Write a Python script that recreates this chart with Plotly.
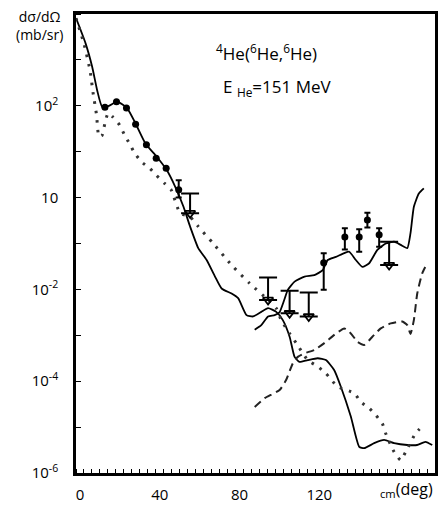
import plotly.graph_objects as go

# ---- data (angles in deg, cross sections as log10 of mb/sr) ----
solid_x = [0, 4.8, 8.1, 10.6, 13.1, 16.5, 20.6, 25.6, 29.8, 34.8, 40.5, 45.5, 49.7, 53.9, 57.2,
           61.3, 65.5, 69.7, 73, 78, 81.3, 85.5, 88.8, 92.9, 96.3, 100.4, 103.7, 107.1, 109.6,
           112, 116.2, 121.2, 125.3, 129.5, 132.8, 137.8, 142, 144.5, 149.5, 154.5, 159.5,
           166.1, 171, 175.2, 178.6]
solid_log = [3.91, 3.36, 2.85, 2.34, 1.98, 2.0, 2.09, 1.95, 1.62, 1.18, 0.89, 0.60, 0.24, -0.20, -0.63,
             -1.10, -1.36, -1.72, -1.98, -2.09, -2.19, -2.56, -2.59, -2.49, -2.41, -2.49, -2.67, -3.03, -3.47,
             -3.58, -3.54, -3.50, -3.54, -3.76, -4.12, -4.77, -5.43, -5.46, -5.35, -5.28, -5.35,
             -5.39, -5.39, -5.32, -5.39]

solid2_x = [89.6, 92.9, 96.3, 99.6, 102.0, 104.4, 106.2, 109.6, 114.6, 119.5, 123.7, 126.2, 130.3,
            134.5, 137, 140.3, 143.6, 147, 151.1, 155.3, 159.5, 162.8, 166.1, 167.7, 169.4, 171.9, 174.4]
solid2_log = [-2.88, -2.78, -2.59, -2.56, -2.50, -2.23, -2.01, -1.83, -1.72, -1.69, -1.58, -1.36, -1.29,
              -1.21, -1.18, -1.36, -1.51, -1.43, -1.14, -1.0, -0.96, -1.03, -1.10, -0.78, -0.20, 0.09, 0.20]

dotted_x = [0, 4.0, 7, 8.6, 10.3, 11.5, 13.1, 14.5, 16.1, 18.6, 21.9, 24.4, 26.9, 29.4, 32.8, 36.9,
            40.2, 44.4, 47.7, 52.2, 57.2, 61.3, 68.8, 78, 87.1, 96.3, 100.4, 102.9, 107.1, 110.4,
            116.2, 121.2, 125.3, 131.2, 139.5, 142.8, 147, 150.3, 153.6, 155.3, 159.5, 162.8,
            165.3, 170.2, 174.4]
dotted_log = [3.91, 3.35, 2.78, 2.27, 1.80, 1.33, 1.36, 1.62, 1.84, 1.75, 1.58, 1.36, 1.17, 0.97, 0.78, 0.64,
              0.49, 0.31, 0.17, -0.34, -0.42, -0.63, -1.0, -1.47, -1.87, -2.23, -2.41, -2.67, -2.96, -3.17,
              -3.54, -3.68, -3.83, -4.12, -4.26, -4.45, -4.59, -4.74, -4.92, -5.14, -5.54, -5.72,
              -5.54, -5.14, -4.95]

dashed_x = [89.6, 94.6, 102.1, 105.4, 108.7, 111.2, 114.6, 119.5, 124.5, 129.5, 134.5, 137.8, 141.1,
            144.5, 148.6, 152.8, 157.8, 163.6, 166.1, 167.7, 169.4, 171.1, 173.6, 176.1]
dashed_log = [-4.56, -4.37, -4.19, -3.97, -3.61, -3.47, -3.39, -3.32, -3.17, -2.99, -2.85, -2.96, -3.14,
              -3.21, -3.03, -2.85, -2.74, -2.70, -2.78, -2.97, -2.67, -2.09, -1.65, -1.43]

# measured points
pts_x = [14.5, 20.3, 25.3, 29.9, 35.3, 40.2, 45.2, 51.5, 124.2, 134.8, 142.0, 146.1, 152.0]
pts_log = [1.97, 2.09, 1.95, 1.60, 1.15, 0.86, 0.64, 0.17, -1.42, -0.86, -0.86, -0.49, -0.81]
pts_hi_log = [1.97, 2.09, 1.95, 1.60, 1.15, 0.86, 0.64, 0.38, -1.21, -0.67, -0.69, -0.33, -0.67]
pts_lo_log = [1.97, 2.09, 1.95, 1.60, 1.15, 0.86, 0.64, 0.0, -2.01, -1.13, -1.18, -0.65, -1.07]

# upper limits
ul_x = [57.2, 96.3, 107.1, 116.7, 157.0]
ul_log = [-0.34, -2.23, -2.52, -2.59, -1.47]
ul_top_log = [0.09, -1.74, -2.03, -2.07, -0.96]

# tick labels (decade exponents / degrees)
ylabel_exp = [2, 0, -2, -4, -6]
ylabel_text = ["10<sup>2</sup>", "10", "10<sup>-2</sup>", "10<sup>-4</sup>", "10<sup>-6</sup>"]
xlabel_vals = [0, 40, 80, 120]
xlabel_text = ["0", "40", "80", "120"]

# ---- figure (y plotted in decades: log10 of the cross section) ----
FONT = "Open Sans"
fig = go.Figure()
fig.add_trace(go.Scatter(x=solid_x, y=solid_log, mode="lines",
                         line=dict(color="black", width=1.8, shape="spline", smoothing=0.5)))
fig.add_trace(go.Scatter(x=solid2_x, y=solid2_log, mode="lines",
                         line=dict(color="black", width=1.8, shape="spline", smoothing=0.5)))
fig.add_trace(go.Scatter(x=dotted_x, y=dotted_log, mode="lines",
                         line=dict(color="#333", width=3, dash="2.5px,7px", shape="spline", smoothing=0.5)))
fig.add_trace(go.Scatter(x=dashed_x, y=dashed_log, mode="lines",
                         line=dict(color="#222", width=2, dash="8px,5px", shape="spline", smoothing=0.5)))

hi = [h - v for h, v in zip(pts_hi_log, pts_log)]
lo = [v - l for l, v in zip(pts_lo_log, pts_log)]
fig.add_trace(go.Scatter(x=pts_x, y=pts_log, mode="markers",
                         marker=dict(symbol="circle", size=7, color="black"),
                         error_y=dict(type="data", symmetric=False, array=hi, arrayminus=lo,
                                      color="black", thickness=2, width=3)))

uhi = [h - v for h, v in zip(ul_top_log, ul_log)]
fig.add_trace(go.Scatter(x=ul_x, y=ul_log, mode="markers",
                         marker=dict(symbol="triangle-down-open", size=9, color="black",
                                     line=dict(width=1.8)),
                         error_y=dict(type="data", symmetric=False, array=uhi,
                                      arrayminus=[0] * len(ul_x),
                                      color="black", thickness=2, width=9)))

fig.update_layout(
    width=441, height=508,
    margin=dict(l=76, r=3, t=14, b=35),
    paper_bgcolor="white", plot_bgcolor="white",
    showlegend=False,
    font=dict(family=FONT, size=14, color="black"),
    xaxis=dict(range=[0, 180], showgrid=False, zeroline=False,
               showline=True, linecolor="black", linewidth=2.5, mirror=True,
               tickmode="array", tickvals=xlabel_vals, ticktext=xlabel_text,
               ticks="", ticklabelshift=4, ticklabelstandoff=6,
               minor=dict(tickmode="linear", tick0=0, dtick=4, ticks="inside", ticklen=4,
                          tickwidth=1.3, tickcolor="black", showgrid=False),
               tickfont=dict(family=FONT, size=15)),
    yaxis=dict(range=[-6, 4], showgrid=False, zeroline=False,
               showline=True, linecolor="black", linewidth=2.5, mirror=True,
               tickmode="array", tickvals=ylabel_exp, ticktext=ylabel_text,
               ticks="", ticklabelstandoff=12,
               minor=dict(tickmode="linear", tick0=0, dtick=1, ticks="inside", ticklen=5,
                          tickwidth=1.3, tickcolor="black", showgrid=False),
               tickfont=dict(family=FONT, size=15)),
)

fig.add_annotation(text="dσ/dΩ<br>(mb/sr)", xref="paper", yref="paper", x=-0.03, y=1.02,
                   xanchor="right", yanchor="top", showarrow=False, align="center",
                   font=dict(family=FONT, size=14))
fig.add_annotation(text="<sup>4</sup>He(<sup>6</sup>He,<sup>6</sup>He)", xref="paper", yref="paper",
                   x=0.53, y=0.917, xanchor="center", yanchor="middle", showarrow=False,
                   font=dict(family=FONT, size=17))
fig.add_annotation(text="E <sub>He</sub>=151 MeV", xref="paper", yref="paper",
                   x=0.56, y=0.839, xanchor="center", yanchor="middle", showarrow=False,
                   font=dict(family=FONT, size=17))
fig.add_annotation(text="<sub>cm</sub>(deg)", xref="paper", yref="paper", x=1.0, y=-0.066,
                   xanchor="right", yanchor="bottom", showarrow=False,
                   font=dict(family=FONT, size=16))

fig.write_html("out.html")
